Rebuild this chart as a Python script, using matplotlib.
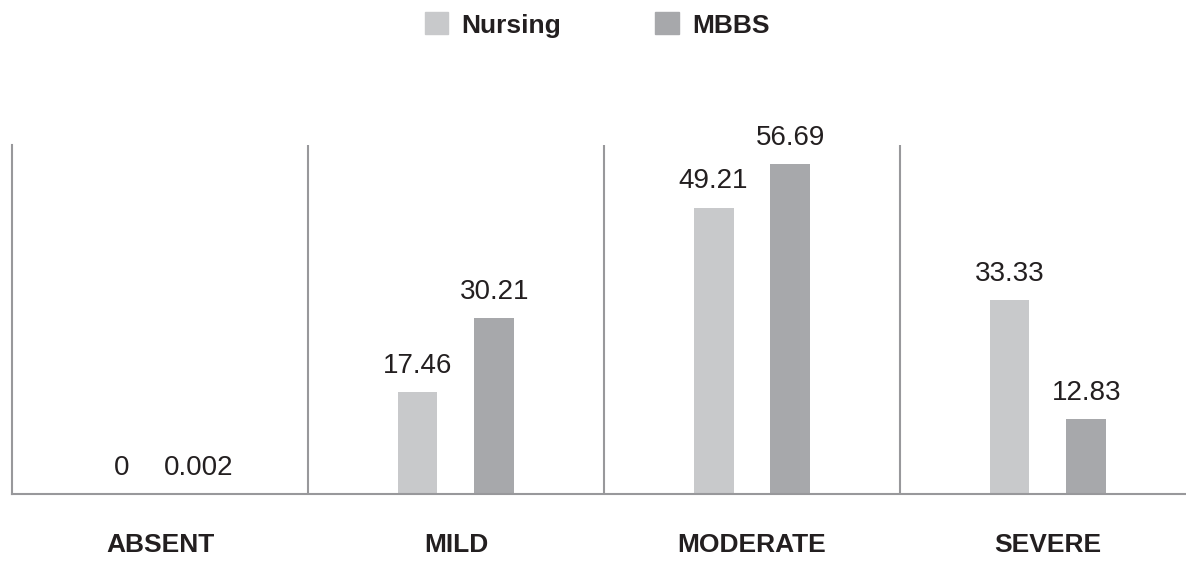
import numpy as np
import matplotlib.pyplot as plt
from matplotlib import font_manager
from matplotlib.patches import Patch

categories = ["ABSENT", "MILD", "MODERATE", "SEVERE"]
nursing = [0, 17.46, 49.21, 33.33]
mbbs = [0.002, 30.21, 56.69, 12.83]
nursing_labels = ["0", "17.46", "49.21", "33.33"]
mbbs_labels = ["0.002", "30.21", "56.69", "12.83"]

names = {f.name for f in font_manager.fontManager.ttflist}
FONT = "Liberation Sans Narrow" if "Liberation Sans Narrow" in names else "Liberation Sans"
plt.rcParams["font.family"] = [FONT, "DejaVu Sans"]

C_NURSING = "#c8c9cb"
C_MBBS = "#a7a8ab"
C_LINE = "#98989b"
C_TEXT = "#231f20"

W, H, DPI = 1186, 561, 100
fig = plt.figure(figsize=(W / DPI, H / DPI), dpi=DPI)
# axes box in pixels: left 12, baseline 494, top 145
ax = fig.add_axes([12 / W, (H - 494) / H, (W - 12) / W, (494 - 145) / H])

x = np.arange(len(categories))
off = 0.13
bw = 0.135
ax.bar(x - off, nursing, bw, color=C_NURSING)
ax.bar(x + off, mbbs, bw, color=C_MBBS)

for xi, v, s in zip(x - off, nursing, nursing_labels):
    ax.annotate(s, (xi, v), xytext=(0, 14), textcoords="offset points",
                ha="center", va="baseline", fontsize=20, color=C_TEXT)
for xi, v, s in zip(x + off, mbbs, mbbs_labels):
    ax.annotate(s, (xi, v), xytext=(0, 14), textcoords="offset points",
                ha="center", va="baseline", fontsize=20, color=C_TEXT)

# separators between the category groups
for b in x[:-1] + 0.5:
    ax.axvline(b, color=C_LINE, lw=1.5)

ax.set_ylim(0, 60)
ax.set_xlim(-0.5, (W - 12) / 296 - 0.5)
for s in ["top", "right"]:
    ax.spines[s].set_visible(False)
for s in ["left", "bottom"]:
    ax.spines[s].set_color(C_LINE)
    ax.spines[s].set_linewidth(1.5)
ax.set_yticks([])
ax.set_xticks(x)
ax.set_xticklabels(categories, fontsize=19, fontweight="bold", color=C_TEXT)
ax.tick_params(axis="x", length=0, pad=28)

handles = [Patch(color=C_NURSING, label="Nursing"), Patch(color=C_MBBS, label="MBBS")]
leg = fig.legend(handles=handles, loc="center", bbox_to_anchor=(597 / W, 1 - 25 / H), ncol=2,
                 frameon=False, prop={"size": 19, "weight": "bold"},
                 handlelength=0.9, handleheight=0.9, handletextpad=0.5, columnspacing=3.55)
for t in leg.get_texts():
    t.set_color(C_TEXT)

fig.savefig("out.png", dpi=DPI)
